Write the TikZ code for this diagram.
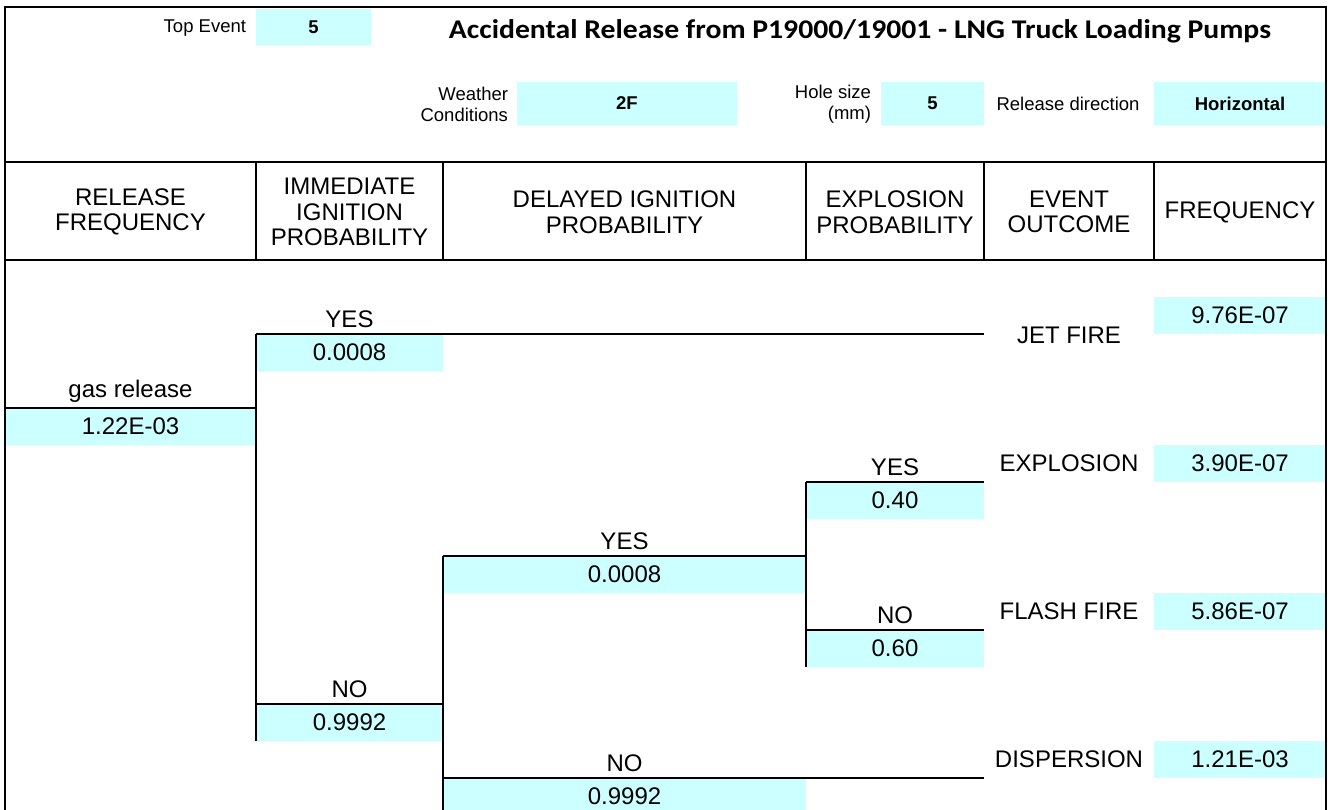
\documentclass[tikz,border=0pt]{standalone}
\usepackage{fontspec}
\setmainfont{Liberation Sans}
\newfontfamily\titlefont{Carlito}[FakeStretch=1.1]
\definecolor{cyanbox}{HTML}{CCFFFF}
\begin{document}
\begin{tikzpicture}[x=1pt,y=-1pt,
  every node/.style={inner sep=0pt, outer sep=0pt},
  bigtxt/.style={font=\fontsize{24}{25.5}\selectfont},
  smalltxt/.style={font=\fontsize{18.5}{21}\selectfont},
  cellbox/.style={fill=cyanbox, anchor=north west},
  valbox/.style={cellbox, bigtxt, minimum height=37pt},
  topval/.style={cellbox, smalltxt, font=\fontsize{18.5}{21}\selectfont\bfseries},
  framelin/.style={line width=2pt, line cap=rect},
  branch/.style={line width=1.8pt},
  hdr/.style={bigtxt, align=center},
]
\useasboundingbox (0,0) rectangle (1333,810);
\fill[white] (0,0) rectangle (1333,810);
\clip (0,0) rectangle (1333,810);

% ---------- title area ----------
\node[smalltxt, anchor=base east] (tel) at (246,33) {Top Event};
\node[topval, minimum width=115pt, minimum height=36pt] (tev) at (256,9) {5};
\node[anchor=base, font=\titlefont\bfseries\fontsize{27}{30}\selectfont] (title) at (860,39)
  {Accidental Release from P19000/19001 - LNG Truck Loading Pumps};

\node[smalltxt, align=right, anchor=east] (wl) at (508,104) {Weather\\Conditions};
\node[topval, minimum width=220pt, minimum height=43pt] (wv) at (517,82) {2F};
\node[smalltxt, align=right, anchor=east] (hl) at (871,104) {Hole size\\(mm)};
\node[topval, minimum width=103pt, minimum height=43pt] (hv) at (881,82) {5};
\node[smalltxt] (rl) at (1068,103.5) {Release direction};
\node[topval, minimum width=172pt, minimum height=43pt] (rv) at (1154,82) {Horizontal};

% ---------- column headers ----------
\node[hdr] (h1) at (130.5,212) {RELEASE\\FREQUENCY};
\node[hdr] (h2) at (349.5,212) {IMMEDIATE\\IGNITION\\PROBABILITY};
\node[hdr] (h3) at (624.5,212) {DELAYED IGNITION\\PROBABILITY};
\node[hdr] (h4) at (895,212) {EXPLOSION\\PROBABILITY};
\node[hdr] (h5) at (1069,212) {EVENT\\OUTCOME};
\node[hdr] (h6) at (1240,212) {FREQUENCY};

% ---------- value boxes ----------
\node[valbox, minimum width=251pt] (gasv) at (5,408) {1.22E-03};
\node[valbox, minimum width=187pt] (iyv) at (256,334) {0.0008};
\node[valbox, minimum width=187pt] (inv) at (256,704) {0.9992};
\node[valbox, minimum width=363pt] (dyv) at (443,556) {0.0008};
\node[valbox, minimum width=363pt] (dnv) at (443,778) {0.9992};
\node[valbox, minimum width=178pt] (eyv) at (806,482) {0.40};
\node[valbox, minimum width=178pt] (env) at (806,630) {0.60};

\node[valbox, minimum width=172pt] (f1) at (1154,297) {9.76E-07};
\node[valbox, minimum width=172pt] (f2) at (1154,445) {3.90E-07};
\node[valbox, minimum width=172pt] (f3) at (1154,593) {5.86E-07};
\node[valbox, minimum width=172pt] (f4) at (1154,741) {1.21E-03};

% ---------- branch labels ----------
\node[bigtxt, anchor=base] (gasl) at (130.5,397.5) {gas release};
\node[bigtxt, anchor=base] (iyl) at (349.5,327.5) {YES};
\node[bigtxt, anchor=base] (inl) at (349.5,697.5) {NO};
\node[bigtxt, anchor=base] (dyl) at (624.5,549.5) {YES};
\node[bigtxt, anchor=base] (dnl) at (624.5,771.5) {NO};
\node[bigtxt, anchor=base] (eyl) at (895,475.5) {YES};
\node[bigtxt, anchor=base] (enl) at (895,623.5) {NO};

% ---------- outcomes ----------
\node[bigtxt, anchor=base] (o1) at (1069,343) {JET FIRE};
\node[bigtxt, anchor=base] (o2) at (1069,471) {EXPLOSION};
\node[bigtxt, anchor=base] (o3) at (1069,619) {FLASH FIRE};
\node[bigtxt, anchor=base] (o4) at (1069,767) {DISPERSION};

% ---------- tree coordinates ----------
\coordinate (g0) at (5,408);
\coordinate (g1) at (256,408);
\coordinate (a1) at (256,334);
\coordinate (a2) at (256,704);
\coordinate (a3) at (256,741);
\coordinate (jet) at (984,334);
\coordinate (b1) at (443,556);
\coordinate (b2) at (443,704);
\coordinate (b3) at (443,778);
\coordinate (b4) at (443,812);
\coordinate (disp) at (984,778);
\coordinate (c1) at (806,482);
\coordinate (c2) at (806,556);
\coordinate (c3) at (806,630);
\coordinate (c4) at (806,667);
\coordinate (expl) at (984,482);
\coordinate (flash) at (984,630);

\draw[branch] (g0) -- (g1);
\draw[branch] (a1) -- (a3);
\draw[branch] (a1) -- (jet);
\draw[branch] (a2) -- (b2);
\draw[branch] (b1) -- (b4);
\draw[branch] (b1) -- (c2);
\draw[branch] (b3) -- (disp);
\draw[branch] (c1) -- (c4);
\draw[branch] (c1) -- (expl);
\draw[branch] (c3) -- (flash);

% ---------- frame and grid ----------
\coordinate (tl) at (5,7);
\coordinate (tr) at (1326,7);
\coordinate (bl) at (5,812);
\coordinate (br) at (1326,812);
\draw[framelin] (bl) -- (tl) -- (tr) -- (br);
\draw[framelin] (5,162) -- (1326,162);
\draw[framelin] (5,260) -- (1326,260);
\foreach \x in {256,443,806,984,1154} \draw[framelin] (\x,162) -- (\x,260);
\end{tikzpicture}
\end{document}
